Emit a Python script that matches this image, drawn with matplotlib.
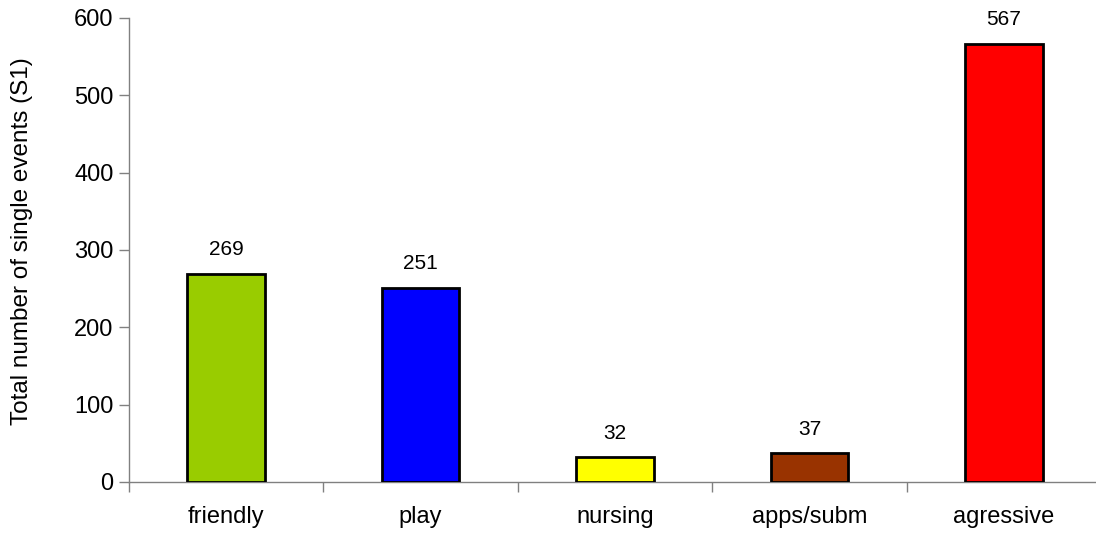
import matplotlib.pyplot as plt
import numpy as np
from matplotlib.ticker import FixedLocator

# Data
categories = ["friendly", "play", "nursing", "apps/subm", "agressive"]
values = [269, 251, 32, 37, 567]
colors = ["#99CC00", "#0000FF", "#FFFF00", "#993300", "#FF0000"]

plt.rcParams['font.family'] = ['Liberation Sans', 'DejaVu Sans']

fig = plt.figure(figsize=(10.96, 5.34), dpi=100)
ax = fig.add_axes([129 / 1096, 52 / 534, 972 / 1096, 464 / 534])

x = np.arange(len(categories))
ax.bar(x, values, width=0.4, color=colors, edgecolor="black", linewidth=2, zorder=3)

# Value labels above bars
for xi, v in zip(x, values):
    ax.text(xi, v + 19, str(v), ha="center", va="bottom", fontsize=15)

ax.set_xlim(-0.5, len(categories) - 0.5)
ax.set_ylim(0, 600)
ax.set_yticks(range(0, 601, 100))
ax.set_xticks(x)
ax.set_xticklabels(categories)
ax.xaxis.set_minor_locator(FixedLocator(np.arange(-0.5, len(categories), 1.0)))

ax.tick_params(axis="x", which="major", length=0, pad=17, labelsize=17)
ax.tick_params(axis="x", which="minor", length=7, width=1, color="#808080", direction="out")
ax.tick_params(axis="y", length=7, width=1, color="#808080", direction="out", labelsize=17, pad=4)

for side in ["top", "right"]:
    ax.spines[side].set_visible(False)
for side in ["left", "bottom"]:
    ax.spines[side].set_color("#808080")
    ax.spines[side].set_linewidth(1)

ax.set_ylabel("Total number of single events (S1)", fontsize=17.5)
ax.yaxis.set_label_coords(-0.099, 0.52)

fig.savefig("out.png", dpi=100)
